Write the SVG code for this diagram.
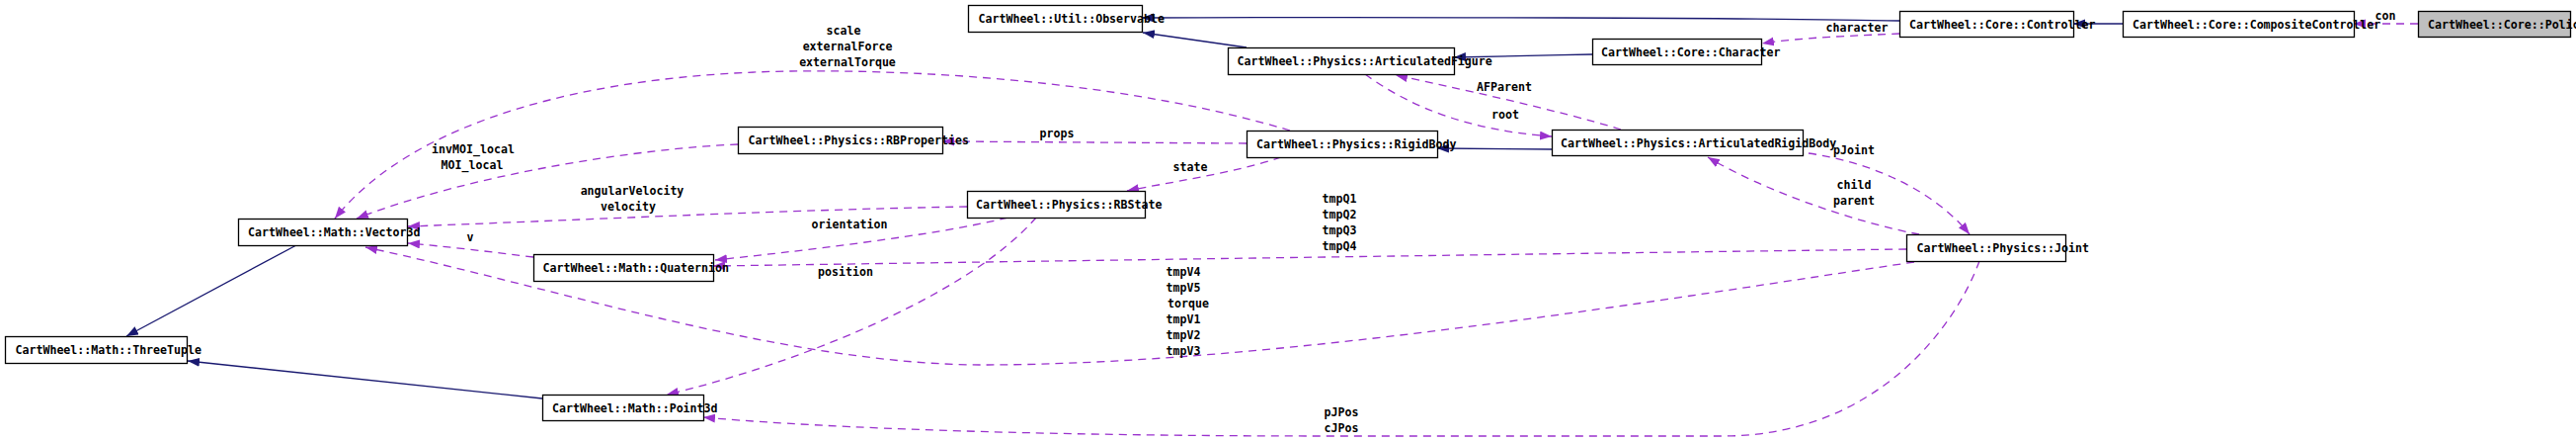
<svg xmlns="http://www.w3.org/2000/svg" width="2608" height="447" viewBox="0 0 2608 447">
<style>
.box{fill:#fff;stroke:#000;stroke-width:1.3}
.hl{fill:#bfbfbf}
text{font-family:"DejaVu Sans Mono","Liberation Mono",monospace;font-size:11.6px;font-weight:bold;fill:#000}
.lbl{text-anchor:middle}
.inh{fill:none;stroke:#191970;stroke-width:1.3}
.use{fill:none;stroke:#9a32cd;stroke-width:1.3;stroke-dasharray:8,6}
</style>
<defs>
<marker id="an" markerUnits="userSpaceOnUse" markerWidth="13" markerHeight="10" refX="12" refY="4.5" orient="auto"><path d="M0,0 L12,4.5 L0,9 z" fill="#191970"/></marker>
<marker id="ap" markerUnits="userSpaceOnUse" markerWidth="13" markerHeight="10" refX="12" refY="4.5" orient="auto"><path d="M0,0 L12,4.5 L0,9 z" fill="#9a32cd"/></marker>
</defs>
<rect width="2608" height="447" fill="#fff"/>
<g id="edges">
<path class="inh" marker-end="url(#an)" d="M300,248 L128,340"/>
<path class="inh" marker-end="url(#an)" d="M549,403 L190,365"/>
<path class="inh" marker-end="url(#an)" d="M1923,21 C1800,18 1400,17 1156,18"/>
<path class="inh" marker-end="url(#an)" d="M1262,48 L1157,33"/>
<path class="inh" marker-end="url(#an)" d="M1612,55 C1560,56 1500,57 1472,58"/>
<path class="inh" marker-end="url(#an)" d="M1571,151 L1455,150"/>
<path class="inh" marker-end="url(#an)" d="M2149,24 L2099,24"/>
<path class="use" marker-end="url(#ap)" d="M2448,24 L2383,24"/>
<path class="use" marker-end="url(#ap)" d="M1923,34 C1880,36 1820,38 1784,44"/>
<path class="use" marker-end="url(#ap)" d="M1641,131 C1580,112 1470,88 1413,76"/>
<path class="use" marker-end="url(#ap)" d="M1382,75 C1430,110 1490,132 1571,138"/>
<path class="use" marker-end="url(#ap)" d="M1262,145 L954,143"/>
<path class="use" marker-end="url(#ap)" d="M1297,159 C1250,175 1180,185 1141,193"/>
<path class="use" marker-end="url(#ap)" d="M1306,132 C1150,85 950,70 800,72 C600,75 420,120 339,221"/>
<path class="use" marker-end="url(#ap)" d="M747,146 C650,150 480,175 361,221"/>
<path class="use" marker-end="url(#ap)" d="M979,209 C800,212 600,222 413,229"/>
<path class="use" marker-end="url(#ap)" d="M1020,220 C950,238 800,255 724,263"/>
<path class="use" marker-end="url(#ap)" d="M1049,220 C980,300 800,370 675,399"/>
<path class="use" marker-end="url(#ap)" d="M540,260 C500,255 450,249 413,246"/>
<path class="use" marker-end="url(#ap)" d="M1930,252 C1600,256 1000,265 722,269"/>
<path class="use" marker-end="url(#ap)" d="M1938,265 C1700,300 1300,368 1000,369 C800,370 560,290 370,250"/>
<path class="use" marker-end="url(#ap)" d="M1943,237 C1880,225 1790,195 1729,159"/>
<path class="use" marker-end="url(#ap)" d="M1831,155 C1900,165 1960,195 1994,237"/>
<path class="use" marker-end="url(#ap)" d="M2004,264 C1980,330 1900,440 1746,441 L1350,441 C1000,441 800,430 712,422"/>
<text class="lbl" x="2415" y="20">con</text>
<text class="lbl" x="1880" y="32">character</text>
<text class="lbl" x="1523" y="92">AFParent</text>
<text class="lbl" x="1524" y="120">root</text>
<text class="lbl" x="1070" y="139">props</text>
<text class="lbl" x="1205" y="173">state</text>
<text class="lbl" x="854" y="35">scale</text>
<text class="lbl" x="858" y="51">externalForce</text>
<text class="lbl" x="858" y="67">externalTorque</text>
<text class="lbl" x="479" y="155">invMOI_local</text>
<text class="lbl" x="478" y="171">MOI_local</text>
<text class="lbl" x="640" y="197">angularVelocity</text>
<text class="lbl" x="636" y="213">velocity</text>
<text class="lbl" x="860" y="231">orientation</text>
<text class="lbl" x="856" y="279">position</text>
<text class="lbl" x="476" y="244">v</text>
<text class="lbl" x="1356" y="205">tmpQ1</text>
<text class="lbl" x="1356" y="221">tmpQ2</text>
<text class="lbl" x="1356" y="237">tmpQ3</text>
<text class="lbl" x="1356" y="253">tmpQ4</text>
<text class="lbl" x="1198" y="279">tmpV4</text>
<text class="lbl" x="1198" y="295">tmpV5</text>
<text class="lbl" x="1203" y="311">torque</text>
<text class="lbl" x="1198" y="327">tmpV1</text>
<text class="lbl" x="1198" y="343">tmpV2</text>
<text class="lbl" x="1198" y="359">tmpV3</text>
<text class="lbl" x="1877" y="191">child</text>
<text class="lbl" x="1877" y="207">parent</text>
<text class="lbl" x="1877" y="156">pJoint</text>
<text class="lbl" x="1358" y="421">pJPos</text>
<text class="lbl" x="1358" y="437">cJPos</text>
</g>
<g id="policy"><rect class="box hl" x="2448.5" y="11.5" width="154" height="26"/><text x="2458" y="28.5">CartWheel::Core::Policy</text></g>
<g id="compositecontroller"><rect class="box" x="2149.5" y="11.5" width="234" height="26"/><text x="2159" y="28.5">CartWheel::Core::CompositeController</text></g>
<g id="controller"><rect class="box" x="1923.5" y="11.5" width="176" height="26"/><text x="1933" y="28.5">CartWheel::Core::Controller</text></g>
<g id="observable"><rect class="box" x="980.5" y="5.5" width="176" height="27"/><text x="990.5" y="22.5">CartWheel::Util::Observable</text></g>
<g id="character"><rect class="box" x="1612.5" y="39.5" width="171" height="26"/><text x="1621" y="56.5">CartWheel::Core::Character</text></g>
<g id="articulatedfigure"><rect class="box" x="1243.5" y="48.5" width="229" height="27"/><text x="1252.5" y="65.5">CartWheel::Physics::ArticulatedFigure</text></g>
<g id="rbproperties"><rect class="box" x="747.5" y="128.5" width="207" height="27"/><text x="757.5" y="145.5">CartWheel::Physics::RBProperties</text></g>
<g id="rigidbody"><rect class="box" x="1262.5" y="132.5" width="193" height="27"/><text x="1272" y="149.5">CartWheel::Physics::RigidBody</text></g>
<g id="articulatedrigidbody"><rect class="box" x="1571.5" y="131.5" width="254" height="26"/><text x="1580" y="148.5">CartWheel::Physics::ArticulatedRigidBody</text></g>
<g id="rbstate"><rect class="box" x="979.5" y="193.5" width="180" height="27"/><text x="988" y="210.5">CartWheel::Physics::RBState</text></g>
<g id="vector3d"><rect class="box" x="241.5" y="221.5" width="171" height="27"/><text x="251" y="238.5">CartWheel::Math::Vector3d</text></g>
<g id="quaternion"><rect class="box" x="540.5" y="257.5" width="182" height="27"/><text x="549.5" y="274.5">CartWheel::Math::Quaternion</text></g>
<g id="joint"><rect class="box" x="1930.5" y="237.5" width="161" height="27"/><text x="1940.5" y="254.5">CartWheel::Physics::Joint</text></g>
<g id="threetuple"><rect class="box" x="5.5" y="340.5" width="184" height="27"/><text x="15.5" y="357.5">CartWheel::Math::ThreeTuple</text></g>
<g id="point3d"><rect class="box" x="549.5" y="399.5" width="163" height="26"/><text x="559" y="416.5">CartWheel::Math::Point3d</text></g>
</svg>
